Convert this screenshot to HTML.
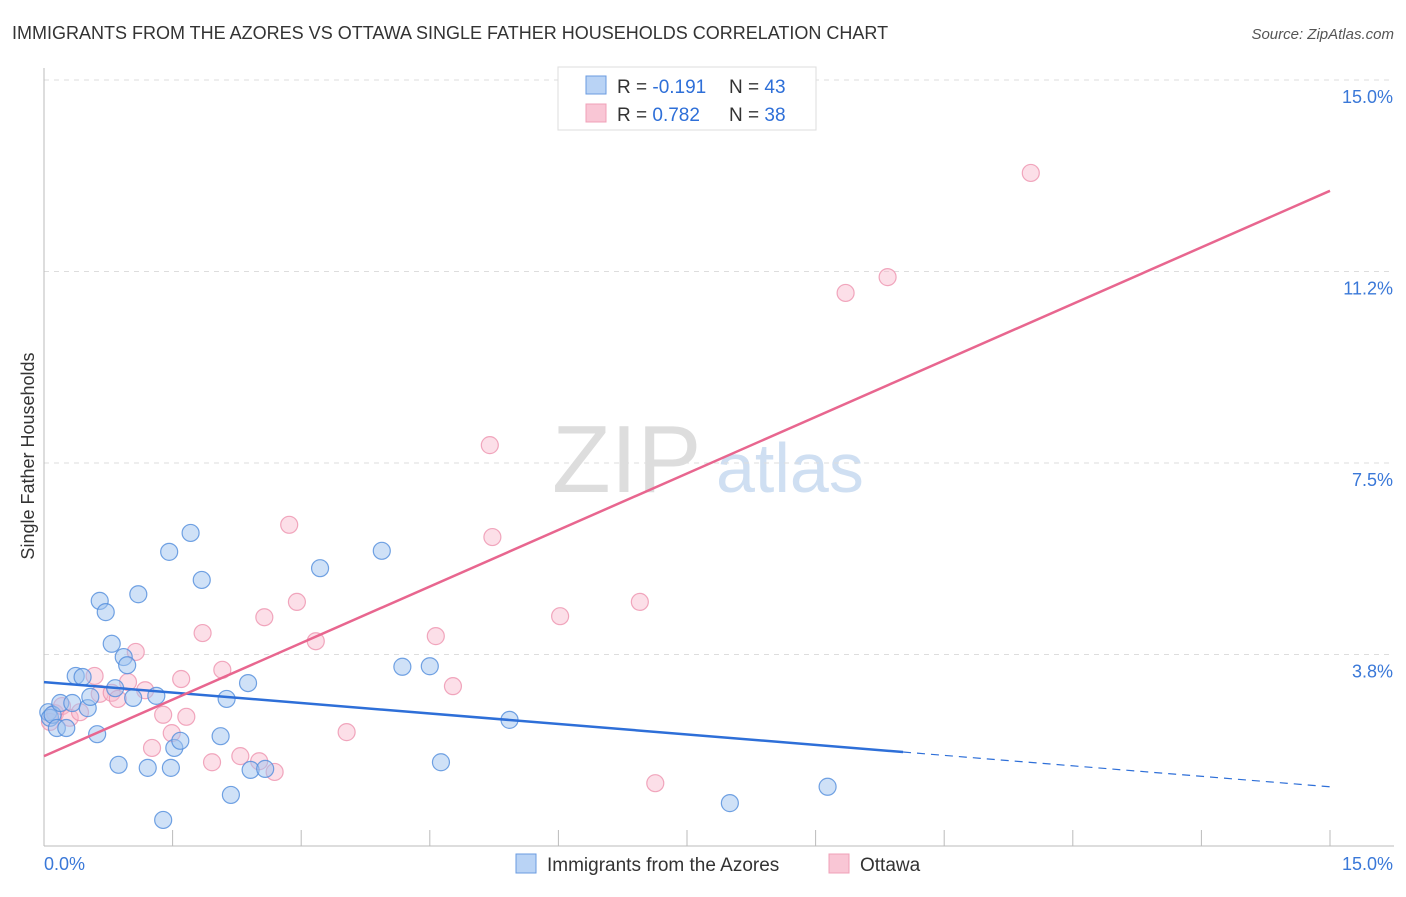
<!DOCTYPE html>
<html><head><meta charset="utf-8"><style>
body{margin:0;background:#fff;font-family:"Liberation Sans",sans-serif;}
svg text{font-family:"Liberation Sans",sans-serif;}
</style></head><body>
<svg id="chart" width="1406" height="892" viewBox="0 0 1406 892">
<text x="12" y="39" font-size="18" fill="#333">IMMIGRANTS FROM THE AZORES VS OTTAWA SINGLE FATHER HOUSEHOLDS CORRELATION CHART</text>
<text x="1394" y="39" font-size="15" fill="#555" font-style="italic" text-anchor="end">Source: ZipAtlas.com</text>
<g>
<text x="552" y="492" font-size="96" fill="#ddd" font-family="Liberation Serif">ZIP</text>
<text x="716" y="492" font-size="70" fill="#cfdff2">atlas</text>
</g>
<g id="grid"></g>
<g id="axes"></g>
<g id="marks"></g>
<text transform="translate(34,456) rotate(-90)" font-size="18" fill="#333" text-anchor="middle">Single Father Households</text>
<g>
<rect x="558" y="67" width="258" height="63" fill="#fff" stroke="#ddd"/>
<rect x="586" y="76" width="20" height="18" fill="#b9d3f5" stroke="#6a9be0"/>
<rect x="586" y="104" width="20" height="18" fill="#f9c6d5" stroke="#f0a0b8"/>
<text x="617" y="93" font-size="19" fill="#333">R = <tspan fill="#2e6fd8">-0.191</tspan><tspan x="729">N = </tspan><tspan fill="#2e6fd8">43</tspan></text>
<text x="617" y="121" font-size="19" fill="#333">R = <tspan fill="#2e6fd8"> 0.782</tspan><tspan x="729">N = </tspan><tspan fill="#2e6fd8">38</tspan></text>
</g>
<g>
<rect x="516" y="854" width="20" height="19" fill="#b9d3f5" stroke="#6a9be0"/>
<text x="547" y="871" font-size="19" fill="#333">Immigrants from the Azores</text>
<rect x="829" y="854" width="20" height="19" fill="#f9c6d5" stroke="#f0a0b8"/>
<text x="860" y="871" font-size="19" fill="#333">Ottawa</text>
</g>
<script>
const yTicks=[3.75,7.5,11.25,15];
const yTickLabels=["3.8%","7.5%","11.2%","15.0%"];
const xTickLabels=["0.0%","15.0%"];
const azoresX=[0.05,0.07,0.10,0.15,0.19,0.26,0.33,0.37,0.45,0.51,0.54,0.62,0.65,0.72,0.79,0.83,0.87,0.93,0.97,1.04,1.10,1.21,1.31,1.39,1.46,1.48,1.52,1.59,1.71,1.84,2.06,2.13,2.18,2.38,2.41,2.58,3.22,3.94,4.18,4.50,4.63,5.43,8.00,9.14];
const azoresY=[2.62,2.51,2.57,2.31,2.80,2.31,2.80,3.33,3.31,2.70,2.92,2.19,4.80,4.58,3.96,3.09,1.59,3.70,3.54,2.90,4.93,1.53,2.94,0.51,5.76,1.53,1.92,2.06,6.13,5.21,2.15,2.88,1.00,3.19,1.49,1.51,5.44,5.78,3.51,3.52,1.64,2.47,0.84,1.16];
const ottawaX=[0.07,0.13,0.21,0.30,0.42,0.59,0.65,0.79,0.86,0.98,1.07,1.18,1.26,1.39,1.49,1.60,1.66,1.85,1.96,2.08,2.29,2.51,2.57,2.69,2.86,2.95,3.17,3.53,4.57,4.77,5.20,5.23,6.02,6.95,7.13,9.35,9.84,11.51];
const ottawaY=[2.43,2.60,2.74,2.51,2.62,3.33,2.98,3.00,2.88,3.21,3.80,3.05,1.92,2.57,2.21,3.27,2.53,4.17,1.64,3.45,1.76,1.66,4.48,1.45,6.29,4.78,4.01,2.23,4.11,3.13,7.85,6.05,4.50,4.78,1.23,10.83,11.14,13.18];
const azoresTrend=[3.21,-0.1367]; // intercept, slope
const ottawaTrend=[1.76,0.738];
const X0=44,X1=1330,Y0=846,Y1=80;
const sx=v=>X0+(X1-X0)*v/15, sy=v=>Y0-(Y0-Y1)*v/15;
const NS="http://www.w3.org/2000/svg";
function mk(tag,attrs,parent,text){const e=document.createElementNS(NS,tag);for(const k in attrs)e.setAttribute(k,attrs[k]);if(text!==undefined)e.textContent=text;parent.appendChild(e);return e;}
const grid=document.getElementById('grid'),axes=document.getElementById('axes'),marks=document.getElementById('marks');
yTicks.forEach((t,i)=>{
  const l=mk('line',{x1:X0,x2:1394,y1:sy(t),y2:sy(t),stroke:'#ddd','stroke-dasharray':'5,5'},grid);
  
  
  const tx=mk('text',{x:1393,y:sy(t)+23,'font-size':18,fill:'#3a78d8','text-anchor':'end'},axes,yTickLabels[i]);
  
  
});
const ya=mk('line',{x1:X0,x2:X0,y1:68,y2:846,stroke:'#bbb'},axes);


const xa=mk('line',{x1:X0,x2:1394,y1:846,y2:846,stroke:'#bbb'},axes);


for(let i=1;i<=10;i++){
  const t=mk('line',{x1:sx(i*1.5),x2:sx(i*1.5),y1:830,y2:846,stroke:'#bbb'},axes);
  
  
}
const xl0=mk('text',{x:44,y:870,'font-size':18,fill:'#3a78d8'},axes,xTickLabels[0]);


const xl1=mk('text',{x:1393,y:870,'font-size':18,fill:'#3a78d8','text-anchor':'end'},axes,xTickLabels[1]);


function pts(xs,ys,fill,stroke,name){
  xs.forEach((x,i)=>{
    const c=mk('circle',{cx:sx(x),cy:sy(ys[i]),r:8.5,fill:fill,stroke:stroke,'stroke-width':1.2},marks);
    
    
  });
}
pts(ottawaX,ottawaY,'rgba(248,185,205,0.45)','rgba(236,140,170,0.75)','ottawa-point');
pts(azoresX,azoresY,'rgba(160,195,240,0.5)','rgba(80,140,220,0.8)','azores-point');
const ab=azoresTrend, ob=ottawaTrend, bEnd=10.02;
const bl=mk('line',{x1:sx(0),y1:sy(ab[0]),x2:sx(bEnd),y2:sy(ab[0]+ab[1]*bEnd),stroke:'#2e6fd8','stroke-width':2.5},marks);


const bd=mk('line',{x1:sx(bEnd),y1:sy(ab[0]+ab[1]*bEnd),x2:sx(15),y2:sy(ab[0]+ab[1]*15),stroke:'#2e6fd8','stroke-width':1.2,'stroke-dasharray':'8,6'},marks);


const pl=mk('line',{x1:sx(0),y1:sy(ob[0]),x2:sx(15),y2:sy(ob[0]+ob[1]*15),stroke:'#e8668f','stroke-width':2.5},marks);


</script>
</svg>
</body></html>
